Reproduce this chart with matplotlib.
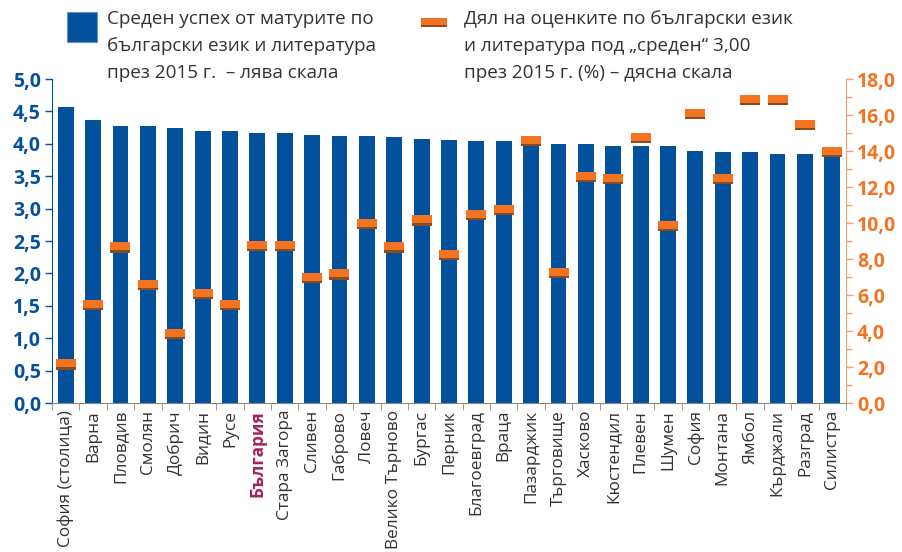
import matplotlib
matplotlib.use("Agg")
import matplotlib.pyplot as plt
import numpy as np
from matplotlib.ticker import MultipleLocator, FuncFormatter

categories = ["София (столица)", "Варна", "Пловдив", "Смолян", "Добрич", "Видин", "Русе",
              "България", "Стара Загора", "Сливен", "Габрово", "Ловеч", "Велико Търново",
              "Бургас", "Перник", "Благоевград", "Враца", "Пазарджик", "Търговище", "Хасково",
              "Кюстендил", "Плевен", "Шумен", "София", "Монтана", "Ямбол", "Кърджали",
              "Разград", "Силистра"]
avg_grade = [4.57, 4.37, 4.28, 4.27, 4.25, 4.20, 4.19, 4.17, 4.17, 4.14, 4.12, 4.12, 4.11,
             4.08, 4.06, 4.05, 4.05, 4.04, 3.99, 3.99, 3.97, 3.96, 3.96, 3.89, 3.88, 3.88,
             3.85, 3.85, 3.84]
share_below3 = [2.2, 5.5, 8.7, 6.6, 3.9, 6.1, 5.5, 8.8, 8.8, 7.0, 7.2, 10.0, 8.7,
                10.2, 8.3, 10.5, 10.8, 14.6, 7.3, 12.6, 12.5, 14.8, 9.9, 16.1, 12.5, 16.9,
                16.9, 15.5, 14.0]
legend_bar = "Среден успех от матурите по\nбългарски език и литература\nпрез 2015 г.  – лява скала"
legend_marker = "Дял на оценките по български език\nи литература под „среден“ 3,00\nпрез 2015 г. (%) – дясна скала"

BLUE = "#03519C"
ORANGE = "#F37321"
SHADOW = "#8A4A22"
TXT = "#333333"
plt.rcParams['font.family'] = ['Open Sans', 'DejaVu Sans']

fig = plt.figure(figsize=(9.03, 5.52), dpi=100)
ax = fig.add_axes([52/903, 1 - 403/552, (846 - 52)/903, (403 - 79)/552])
ax2 = ax.twinx()

x = np.arange(len(categories))
ax.bar(x, avg_grade, width=0.58, color=BLUE, zorder=2)
ax.set_xlim(-0.5, len(categories) - 0.5)
ax.set_ylim(0, 5)
ax2.set_ylim(0, 18)

rect = [(-1.4, -0.5), (1.4, -0.5), (1.4, 0.5), (-1.4, 0.5), (-1.4, -0.5)]
ms = 20 * 72 / 100
ax2.plot(x, np.array(share_below3) - 0.12, linestyle='none', marker=rect, markersize=ms,
         color=SHADOW, markeredgewidth=0, zorder=3)
ax2.plot(x, share_below3, linestyle='none', marker=rect, markersize=ms,
         color=ORANGE, markeredgewidth=0, zorder=4)

fmt = FuncFormatter(lambda v, p: f"{v:.1f}".replace(".", ","))
ax.yaxis.set_major_locator(MultipleLocator(0.5))
ax.yaxis.set_major_formatter(fmt)
ax2.yaxis.set_major_locator(MultipleLocator(2))
ax2.yaxis.set_minor_locator(MultipleLocator(1))
ax2.yaxis.set_major_formatter(fmt)

for a in (ax, ax2):
    a.spines['top'].set_visible(False)
ax.spines['right'].set_visible(False)
ax2.spines['left'].set_visible(False)
ax2.spines['bottom'].set_visible(False)
ax.spines['left'].set_color(BLUE)
ax2.spines['right'].set_color("#F5A06A")
ax.spines['bottom'].set_color("#888888")

ax.tick_params(axis='y', colors=BLUE, length=5, width=1, labelsize=14, pad=3)
for t in ax.get_yticklabels():
    t.set_fontweight('bold')
ax2.tick_params(axis='y', which='major', colors=ORANGE, length=5, width=1, labelsize=14, pad=3)
ax2.tick_params(axis='y', which='minor', colors="#F5A06A", length=4, width=1)
ax2.tick_params(axis='y', which='major', color="#F5A06A")
for t in ax2.get_yticklabels():
    t.set_fontweight('bold')

ax.set_xticks(x)
ax.set_xticklabels(categories, rotation=90, fontsize=12.4, color=TXT)
ax.tick_params(axis='x', which='major', length=0, pad=5)
ax.set_xticks(np.arange(-0.5, len(categories), 1), minor=True)
ax.tick_params(axis='x', which='minor', length=5, color="#888888")
for t in ax.get_xticklabels():
    if t.get_text() == "България":
        t.set_color("#A3245E")
        t.set_fontweight('bold')

# legend
fig.patches.append(plt.Rectangle((67/903, 1 - 42/552), 30/903, 30/552, transform=fig.transFigure,
                                 facecolor=BLUE, edgecolor="#6d8fb8", lw=0.8))
fig.text(107/903, 1 - 10/552, legend_bar, ha='left', va='top', fontsize=13.6, color=TXT,
         linespacing=1.64)
fig.patches.append(plt.Rectangle((421/903, 1 - 27/552), 26/903, 3/552, transform=fig.transFigure,
                                 facecolor=SHADOW, edgecolor='none'))
fig.patches.append(plt.Rectangle((421/903, 1 - 25/552), 26/903, 7/552, transform=fig.transFigure,
                                 facecolor=ORANGE, edgecolor='none'))
fig.text(464/903, 1 - 10/552, legend_marker, ha='left', va='top', fontsize=13.6, color=TXT,
         linespacing=1.64)

fig.savefig("out.png", dpi=100)
